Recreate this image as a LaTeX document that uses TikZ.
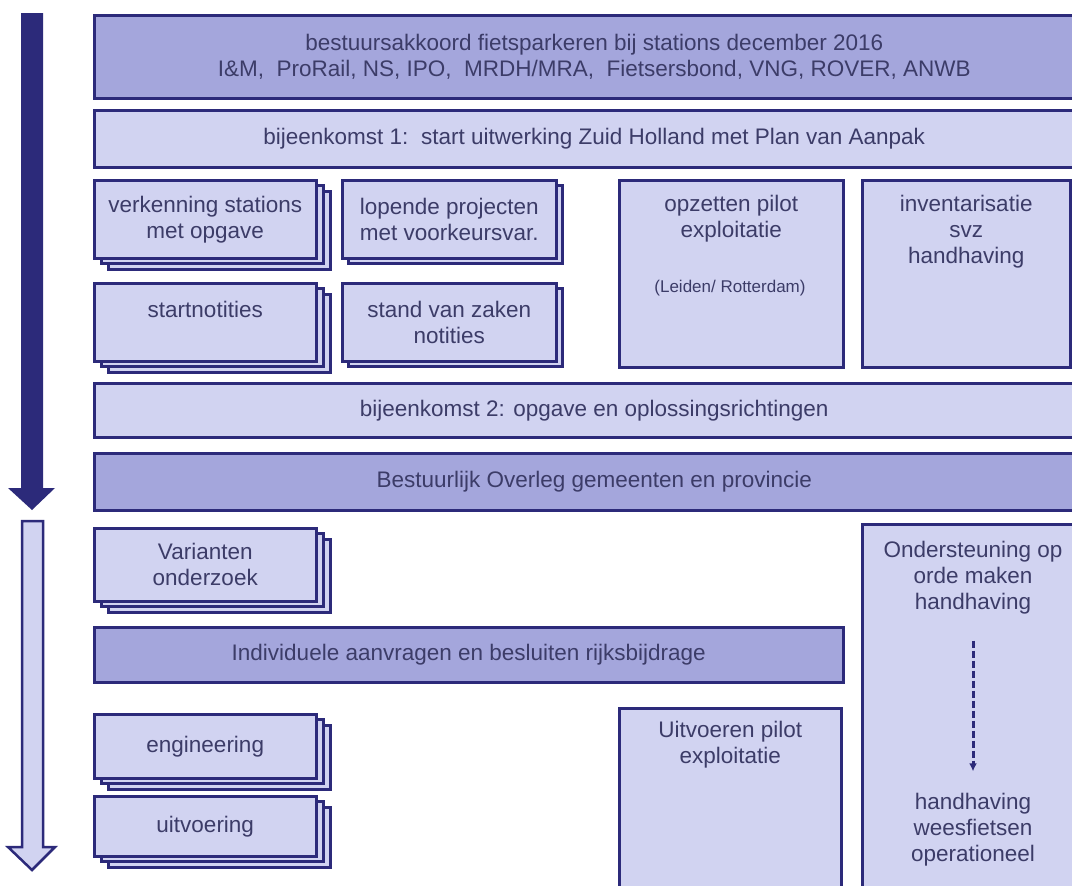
\documentclass[tikz,border=0pt]{standalone}
\usepackage{fontspec}
\setmainfont{Liberation Sans}
\usetikzlibrary{positioning,shadows,arrows.meta}

\definecolor{planline}{HTML}{2C2A7A}
\definecolor{plandark}{HTML}{A4A6DC}
\definecolor{planlight}{HTML}{D1D3F1}
\definecolor{plantext}{HTML}{3C3C68}
\newcommand{\planfont}{\fontsize{22.5}{26}\selectfont}

\begin{document}
\begin{tikzpicture}[x=1pt,y=-1pt,
  box/.style={draw=planline,line width=2.5pt,fill=planlight,anchor=north west,
              inner sep=0pt,text=plantext,font=\planfont,align=center},
  band/.style={box,minimum width=1000pt,minimum height=57pt},
  darkband/.style={band,fill=plandark},
  onestack/.style={box,copy shadow={shadow xshift=6pt,shadow yshift=-5pt}},
  twostack/.style={box,copy shadow={shadow xshift=14pt,shadow yshift=-11pt},
                   copy shadow={shadow xshift=7pt,shadow yshift=-5pt}},
  boxtext/.style={text=plantext,font=\planfont,align=center,inner sep=0pt},
  smalltext/.style={text=plantext,font=\fontsize{17}{20}\selectfont,inner sep=0pt},
]
\useasboundingbox (0,0) rectangle (1072,886);
\clip (0,0) rectangle (1072,886);

% phase arrows
\fill[planline] (21,13) -- (43,13) -- (43,488) -- (55,488) -- (32,510)
  -- (8,488) -- (21,488) -- cycle;
\draw[planline,line width=2.5pt,fill=planlight] (22,521) -- (43,521) -- (43,847)
  -- (55,847) -- (32,870) -- (8,847) -- (22,847) -- cycle;

% phase 1
\node[darkband,minimum height=83pt] (akkoord) at (93,14)
  {bestuursakkoord fietsparkeren bij stations december 2016\\
   I\&M,\ \ ProRail, NS, IPO,\ \ MRDH/MRA,\ \ Fietsersbond, VNG, ROVER, ANWB};
\node[band] (meet1) at (93,109)
  {bijeenkomst 1:\ \ start uitwerking Zuid Holland met Plan van Aanpak};

\node[twostack,minimum width=222pt,minimum height=78pt] (verkenning) at (93,179)
  {verkenning stations\\met opgave};
\node[onestack,minimum width=214pt,minimum height=78pt] (lopend) at (341,179)
  {lopende projecten\\met voorkeursvar.};
\node[twostack,minimum width=222pt,minimum height=78pt] (start) at (93,282)
  {startnotities\\\mbox{}};
\node[onestack,minimum width=214pt,minimum height=78pt] (stand) at (341,282)
  {stand van zaken\\notities};

\node[box,minimum width=224pt,minimum height=187pt] (pilot) at (618,179) {};
\node[boxtext,below=16pt of pilot.north] (pilottxt) {opzetten pilot\\exploitatie};
\node[smalltext] (leiden) at (730,288) {(Leiden/ Rotterdam)};
\node[box,minimum width=208pt,minimum height=187pt] (inventaris) at (861,179) {};
\node[boxtext,below=16pt of inventaris.north] (inventxt)
  {inventarisatie\\svz\\handhaving};

\node[band,minimum height=54pt] (meet2) at (93,382)
  {bijeenkomst 2: opgave en oplossingsrichtingen};
\node[darkband] (overleg) at (93,452)
  {Bestuurlijk Overleg gemeenten en provincie};

% phase 2
\node[twostack,minimum width=222pt,minimum height=73pt] (varianten) at (93,527)
  {Varianten\\onderzoek};
\node[box,minimum width=224pt,minimum height=400pt] (steun) at (861,523) {};
\node[boxtext] (steuntxt) at (973,578) {Ondersteuning op\\orde maken\\handhaving};
\node[boxtext] (weestxt) at (973,830) {handhaving\\weesfietsen\\operationeel};
\draw[planline,line width=3pt,dash pattern=on 7pt off 3pt,
      -{Latex[length=8pt,width=8pt]},shorten <=26pt,shorten >=22pt]
  (steuntxt.south) -- (weestxt.north);

\node[darkband,minimum width=749pt,minimum height=55pt] (aanvraag) at (93,626)
  {Individuele aanvragen en besluiten rijksbijdrage};

\node[twostack,minimum width=222pt,minimum height=64pt] (engineering) at (93,713)
  {engineering};
\node[twostack,minimum width=222pt,minimum height=60pt] (uitvoering) at (93,795)
  {uitvoering};
\node[box,minimum width=222pt,minimum height=200pt] (pilot2) at (618,707) {};
\node[boxtext,below=14pt of pilot2.north] (pilot2txt) {Uitvoeren pilot\\exploitatie};
\end{tikzpicture}
\end{document}
